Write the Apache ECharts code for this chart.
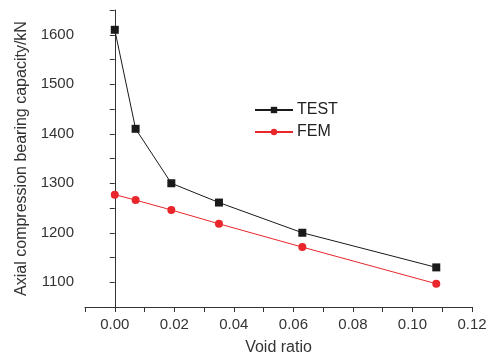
<!DOCTYPE html>
<html><head><meta charset="utf-8">
<script src="https://cdn.jsdelivr.net/npm/echarts@6/dist/echarts.min.js"></script>
<style>html,body{margin:0;padding:0;background:#fff}#c{width:489px;height:356px}</style>
</head><body><div id="c"></div>
<script>
const voidRatio = [0, 0.007, 0.019, 0.035, 0.063, 0.108];
const testValues = [1610, 1410, 1300, 1261, 1200, 1130];
const femValues = [1277, 1266, 1246, 1218, 1171, 1097];
const seriesNames = ['TEST', 'FEM'];
const ff = '"Liberation Sans", Arial, sans-serif';
const chart = echarts.init(document.getElementById('c'));
chart.setOption({
  animation: false,
  grid: {left: 85, right: 17, top: 10, bottom: 49, containLabel: false, outerBoundsMode: 'none'},
  legend: {
    left: 249, top: 97, orient: 'vertical', itemWidth: 38, itemHeight: 8, itemGap: 6,
    textStyle: {fontSize: 16, fontFamily: ff, color: '#222', padding: [0, 0, 0, -1]},
    data: seriesNames
  },
  xAxis: {
    type: 'value', min: -0.01, max: 0.12, interval: 0.01,
    name: 'Void ratio', nameLocation: 'middle', nameGap: 33,
    nameTextStyle: {color: '#333', fontSize: 16, fontFamily: ff},
    axisLine: {show: true, lineStyle: {color: '#333', width: 1}},
    axisTick: {show: true, length: 5, lineStyle: {color: '#333'}},
    splitLine: {show: false},
    axisLabel: {color: '#333', fontSize: 15, fontFamily: ff, margin: 10,
      formatter: v => { const r = Math.round(v * 100); return (r % 2 === 0 && r >= 0) ? (r / 100).toFixed(2) : ''; }}
  },
  yAxis: {
    type: 'value', min: 1050, max: 1650, interval: 50,
    name: 'Axial compression bearing capacity/kN', nameLocation: 'middle', nameGap: 55,
    nameTextStyle: {color: '#333', fontSize: 16, fontFamily: ff},
    axisLine: {show: true, lineStyle: {color: '#333', width: 1}},
    axisTick: {show: true, length: 5, lineStyle: {color: '#333'}},
    splitLine: {show: false},
    axisLabel: {color: '#333', fontSize: 15, fontFamily: ff, margin: 11,
      formatter: v => (v % 100 === 0 && v < 1650) ? String(v) : ''}
  },
  series: [
    {name: seriesNames[0], type: 'line', data: voidRatio.map((x, i) => [x, testValues[i]]),
     symbol: 'rect', symbolSize: 8, color: '#1a1a1a', lineStyle: {width: 1, color: '#1a1a1a'}},
    {name: seriesNames[1], type: 'line', data: voidRatio.map((x, i) => [x, femValues[i]]),
     symbol: 'circle', symbolSize: 8, color: '#e8262b', lineStyle: {width: 1, color: '#e8262b'}}
  ]
});
</script></body></html>
